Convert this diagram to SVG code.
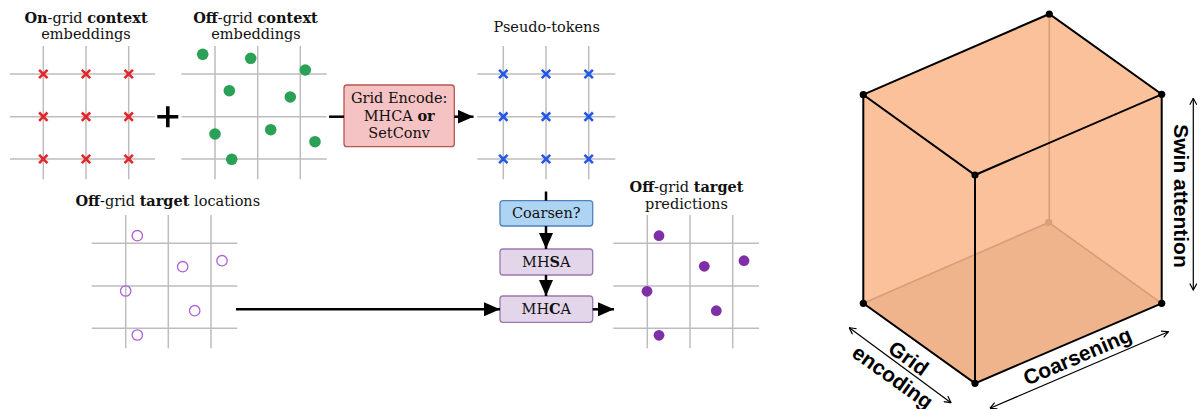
<svg xmlns="http://www.w3.org/2000/svg" xmlns:xlink="http://www.w3.org/1999/xlink" width="1200" height="409" viewBox="0 0 1200 409">
  <style>
    .lbl { font-family: "DejaVu Serif", "Liberation Serif", serif; font-size: 14.5px; fill: #111; text-anchor: middle; }
    .b { font-weight: bold; }
    .grid line { stroke: #bdbdbd; stroke-width: 1.5; }
    .xred { stroke: #e3262b; stroke-width: 2.6; fill: none; }
    .xblue { stroke: #2457e6; stroke-width: 2.6; fill: none; }
    .ctx { fill: #2ba057; }
    .tgt { fill: none; stroke: #ad5fd9; stroke-width: 1.3; }
    .pred { fill: #7e2ea6; }
    .wire { stroke: #000; stroke-width: 2.5; fill: none; }
    .box-enc { fill: #f5c3c3; stroke: #b85450; stroke-width: 1.3; }
    .box-coarse { fill: #aed4f3; stroke: #4f84b8; stroke-width: 1.3; }
    .box-attn { fill: #e3d6ea; stroke: #9d78ae; stroke-width: 1.3; }
    .edge { stroke: #000; stroke-width: 2; fill: none; stroke-linecap: round; }
    .hidden { stroke: #d59e79; stroke-width: 1.6; fill: none; }
    .vtx { fill: #000; }
    .axis { stroke: #000; stroke-width: 1.2; fill: none; }
    .axlbl { font-family: "Liberation Sans", Arial, sans-serif; font-weight: bold; font-size: 21px; fill: #000; text-anchor: middle; }
  </style>
  <defs>
    <path id="xm" d="M-4.2,-4.2L4.2,4.2M-4.2,4.2L4.2,-4.2"/>
    <marker id="tri" viewBox="0 0 16 14" refX="16" refY="7" markerWidth="16" markerHeight="14" markerUnits="userSpaceOnUse" orient="auto">
      <path d="M0,0L16,7L0,14Z" fill="#000"/>
    </marker>
    <marker id="open" viewBox="0 0 8 8" refX="7.5" refY="4" markerWidth="8" markerHeight="8" markerUnits="userSpaceOnUse" orient="auto-start-reverse">
      <path d="M1,0.5L7.5,4L1,7.5" fill="none" stroke="#000" stroke-width="1.2"/>
    </marker>
  </defs>

  <rect width="1200" height="409" fill="#fff"/>

  <!-- on-grid context embeddings -->
  <g id="on-grid-context">
    <text class="lbl" x="86" y="22.5"><tspan class="b">On</tspan>-grid <tspan class="b">context</tspan></text>
    <text class="lbl" x="86" y="38.5">embeddings</text>
    <g class="grid">
      <line x1="43.3" y1="46" x2="43.3" y2="179.3"/>
      <line x1="86" y1="46" x2="86" y2="179.3"/>
      <line x1="128.7" y1="46" x2="128.7" y2="179.3"/>
      <line x1="10" y1="74" x2="155" y2="74"/>
      <line x1="10" y1="116.7" x2="155" y2="116.7"/>
      <line x1="10" y1="159" x2="155" y2="159"/>
    </g>
    <g class="xred">
      <use href="#xm" x="43.3" y="74"/><use href="#xm" x="86" y="74"/><use href="#xm" x="128.7" y="74"/>
      <use href="#xm" x="43.3" y="116.7"/><use href="#xm" x="86" y="116.7"/><use href="#xm" x="128.7" y="116.7"/>
      <use href="#xm" x="43.3" y="159"/><use href="#xm" x="86" y="159"/><use href="#xm" x="128.7" y="159"/>
    </g>
  </g>

  <!-- plus sign -->
  <g id="plus">
    <path d="M157.3,116.7H178.3M167.8,106.2V127.2" stroke="#000" stroke-width="3.6"/>
  </g>

  <!-- off-grid context embeddings -->
  <g id="off-grid-context">
    <text class="lbl" x="255.5" y="22.5"><tspan class="b">Off</tspan>-grid <tspan class="b">context</tspan></text>
    <text class="lbl" x="256" y="38.5">embeddings</text>
    <g class="grid">
      <line x1="215" y1="46" x2="215" y2="179.3"/>
      <line x1="257.7" y1="46" x2="257.7" y2="179.3"/>
      <line x1="300.3" y1="46" x2="300.3" y2="179.3"/>
      <line x1="181.5" y1="74" x2="326.7" y2="74"/>
      <line x1="181.5" y1="116.7" x2="326.7" y2="116.7"/>
      <line x1="181.5" y1="159" x2="326.7" y2="159"/>
    </g>
    <g class="ctx">
      <circle cx="202.7" cy="54.3" r="5.8"/>
      <circle cx="250.7" cy="58.3" r="5.8"/>
      <circle cx="305.3" cy="70" r="5.8"/>
      <circle cx="229.3" cy="90.7" r="5.8"/>
      <circle cx="290.3" cy="97" r="5.8"/>
      <circle cx="215" cy="134" r="5.8"/>
      <circle cx="270.7" cy="129.7" r="5.8"/>
      <circle cx="315" cy="141.7" r="5.8"/>
      <circle cx="231.7" cy="159.3" r="5.8"/>
    </g>
  </g>

  <!-- grid encoder -->
  <g id="grid-encode">
    <rect class="box-enc" x="344" y="85" width="110.3" height="61.7" rx="3"/>
    <text class="lbl" x="399.2" y="103">Grid Encode:</text>
    <text class="lbl" x="399.2" y="120.5">MHCA <tspan class="b">or</tspan></text>
    <text class="lbl" x="399.2" y="137.7">SetConv</text>
  </g>

  <!-- pseudo-tokens -->
  <g id="pseudo-tokens">
    <text class="lbl" x="546.7" y="31.5">Pseudo-tokens</text>
    <g class="grid">
      <line x1="503.3" y1="46" x2="503.3" y2="179.3"/>
      <line x1="546" y1="46" x2="546" y2="179.3"/>
      <line x1="588.7" y1="46" x2="588.7" y2="179.3"/>
      <line x1="477.3" y1="74" x2="615.3" y2="74"/>
      <line x1="477.3" y1="116.7" x2="615.3" y2="116.7"/>
      <line x1="477.3" y1="159" x2="615.3" y2="159"/>
    </g>
    <g class="xblue">
      <use href="#xm" x="503.3" y="74"/><use href="#xm" x="546" y="74"/><use href="#xm" x="588.7" y="74"/>
      <use href="#xm" x="503.3" y="116.7"/><use href="#xm" x="546" y="116.7"/><use href="#xm" x="588.7" y="116.7"/>
      <use href="#xm" x="503.3" y="159"/><use href="#xm" x="546" y="159"/><use href="#xm" x="588.7" y="159"/>
    </g>
  </g>

  <!-- off-grid target locations -->
  <g id="target-locations">
    <text class="lbl" x="167.8" y="205.7"><tspan class="b">Off</tspan>-grid <tspan class="b">target</tspan> locations</text>
    <g class="grid">
      <line x1="125.7" y1="215" x2="125.7" y2="348.3"/>
      <line x1="168.3" y1="215" x2="168.3" y2="348.3"/>
      <line x1="211" y1="215" x2="211" y2="348.3"/>
      <line x1="91.7" y1="243.3" x2="237.3" y2="243.3"/>
      <line x1="91.7" y1="286" x2="237.3" y2="286"/>
      <line x1="91.7" y1="328.3" x2="237.3" y2="328.3"/>
    </g>
    <g class="tgt">
      <circle cx="137.3" cy="235.7" r="5.2"/>
      <circle cx="182.7" cy="266.7" r="5.2"/>
      <circle cx="222" cy="260.7" r="5.2"/>
      <circle cx="125.7" cy="291" r="5.2"/>
      <circle cx="194.7" cy="310.7" r="5.2"/>
      <circle cx="137.3" cy="335" r="5.2"/>
    </g>
  </g>

  <!-- processor blocks -->
  <g id="coarsen">
    <rect class="box-coarse" x="500" y="200.7" width="92.7" height="25.3" rx="3"/>
    <text class="lbl" x="546.3" y="218">Coarsen?</text>
  </g>
  <g id="mhsa">
    <rect class="box-attn" x="500" y="249" width="92.7" height="26" rx="3"/>
    <text class="lbl" x="546.3" y="266.8">MH<tspan class="b">S</tspan>A</text>
  </g>
  <g id="mhca">
    <rect class="box-attn" x="500" y="296" width="92.7" height="26.3" rx="3"/>
    <text class="lbl" x="546.3" y="313.5">MH<tspan class="b">C</tspan>A</text>
  </g>

  <!-- off-grid target predictions -->
  <g id="target-predictions">
    <text class="lbl" x="686.5" y="192.3"><tspan class="b">Off</tspan>-grid <tspan class="b">target</tspan></text>
    <text class="lbl" x="686.5" y="208.8">predictions</text>
    <g class="grid">
      <line x1="647.3" y1="215" x2="647.3" y2="348.3"/>
      <line x1="690" y1="215" x2="690" y2="348.3"/>
      <line x1="732.7" y1="215" x2="732.7" y2="348.3"/>
      <line x1="613.3" y1="243.3" x2="759" y2="243.3"/>
      <line x1="613.3" y1="286" x2="759" y2="286"/>
      <line x1="613.3" y1="328.3" x2="759" y2="328.3"/>
    </g>
    <g class="pred">
      <circle cx="659" cy="235.7" r="5.4"/>
      <circle cx="704.3" cy="266.3" r="5.4"/>
      <circle cx="744" cy="260.7" r="5.4"/>
      <circle cx="647" cy="291.3" r="5.4"/>
      <circle cx="716.3" cy="310.7" r="5.4"/>
      <circle cx="659" cy="335.3" r="5.4"/>
    </g>
  </g>

  <!-- connectors -->
  <g id="connectors">
    <line class="wire" x1="329" y1="116.7" x2="344" y2="116.7"/>
    <line class="wire" x1="454.3" y1="116.7" x2="473.5" y2="116.7" marker-end="url(#tri)"/>
    <line class="wire" x1="546" y1="191.5" x2="546" y2="200.7"/>
    <line class="wire" x1="546" y1="226" x2="546" y2="249" marker-end="url(#tri)"/>
    <line class="wire" x1="546" y1="275" x2="546" y2="296" marker-end="url(#tri)"/>
    <line class="wire" x1="236" y1="309.3" x2="500" y2="309.3" marker-end="url(#tri)"/>
    <line class="wire" x1="592.7" y1="309.3" x2="614" y2="309.3" marker-end="url(#tri)"/>
  </g>

  <!-- design-space cube -->
  <g id="cube">
    <polygon points="863.3,94.7 1049.3,14 1161.7,94.3 1161.7,303.3 975,383.3 863.3,303.3" fill="#fac19b"/>
    <polygon points="863.3,303.3 1048.7,222.4 1161.7,303.3 975,383.3" fill="#efb48c"/>
    <path class="hidden" d="M1049.3,14V222.4M863.3,303.3L1048.7,222.4L1161.7,303.3"/>
    <circle cx="1048.7" cy="222.4" r="3.6" fill="#d9a07c"/>
    <path class="edge" d="M863.3,94.7L1049.3,14L1161.7,94.3L975,175ZM863.3,94.7V303.3L975,383.3L1161.7,303.3V94.3M975,175V383.3"/>
    <g class="vtx">
      <circle cx="1049.3" cy="14" r="3.6"/>
      <circle cx="863.3" cy="94.7" r="3.6"/>
      <circle cx="1161.7" cy="94.3" r="3.6"/>
      <circle cx="975" cy="175" r="3.6"/>
      <circle cx="863.3" cy="303.3" r="3.6"/>
      <circle cx="1161.7" cy="303.3" r="3.6"/>
      <circle cx="975" cy="383.3" r="3.6"/>
    </g>
  </g>

  <!-- cube axes -->
  <g id="axis-swin">
    <line class="axis" x1="1193.3" y1="98.3" x2="1193.3" y2="290" marker-start="url(#open)" marker-end="url(#open)"/>
    <text class="axlbl" transform="translate(1193.3,98.3) rotate(90)" x="97.7" y="19">Swin attention</text>
  </g>
  <g id="axis-grid-encoding">
    <line class="axis" x1="849.3" y1="327.7" x2="951" y2="402.7" marker-start="url(#open)" marker-end="url(#open)"/>
    <g transform="translate(849.3,327.7) rotate(35.6)">
      <text class="axlbl" x="66" y="-2.5">Grid</text>
      <text class="axlbl" x="64" y="22">encoding</text>
    </g>
  </g>
  <g id="axis-coarsening">
    <line class="axis" x1="990" y1="408.3" x2="1168.3" y2="331.7" marker-start="url(#open)" marker-end="url(#open)"/>
    <text class="axlbl" transform="translate(990,408.3) rotate(-23.25)" x="100.8" y="-6">Coarsening</text>
  </g>
</svg>
